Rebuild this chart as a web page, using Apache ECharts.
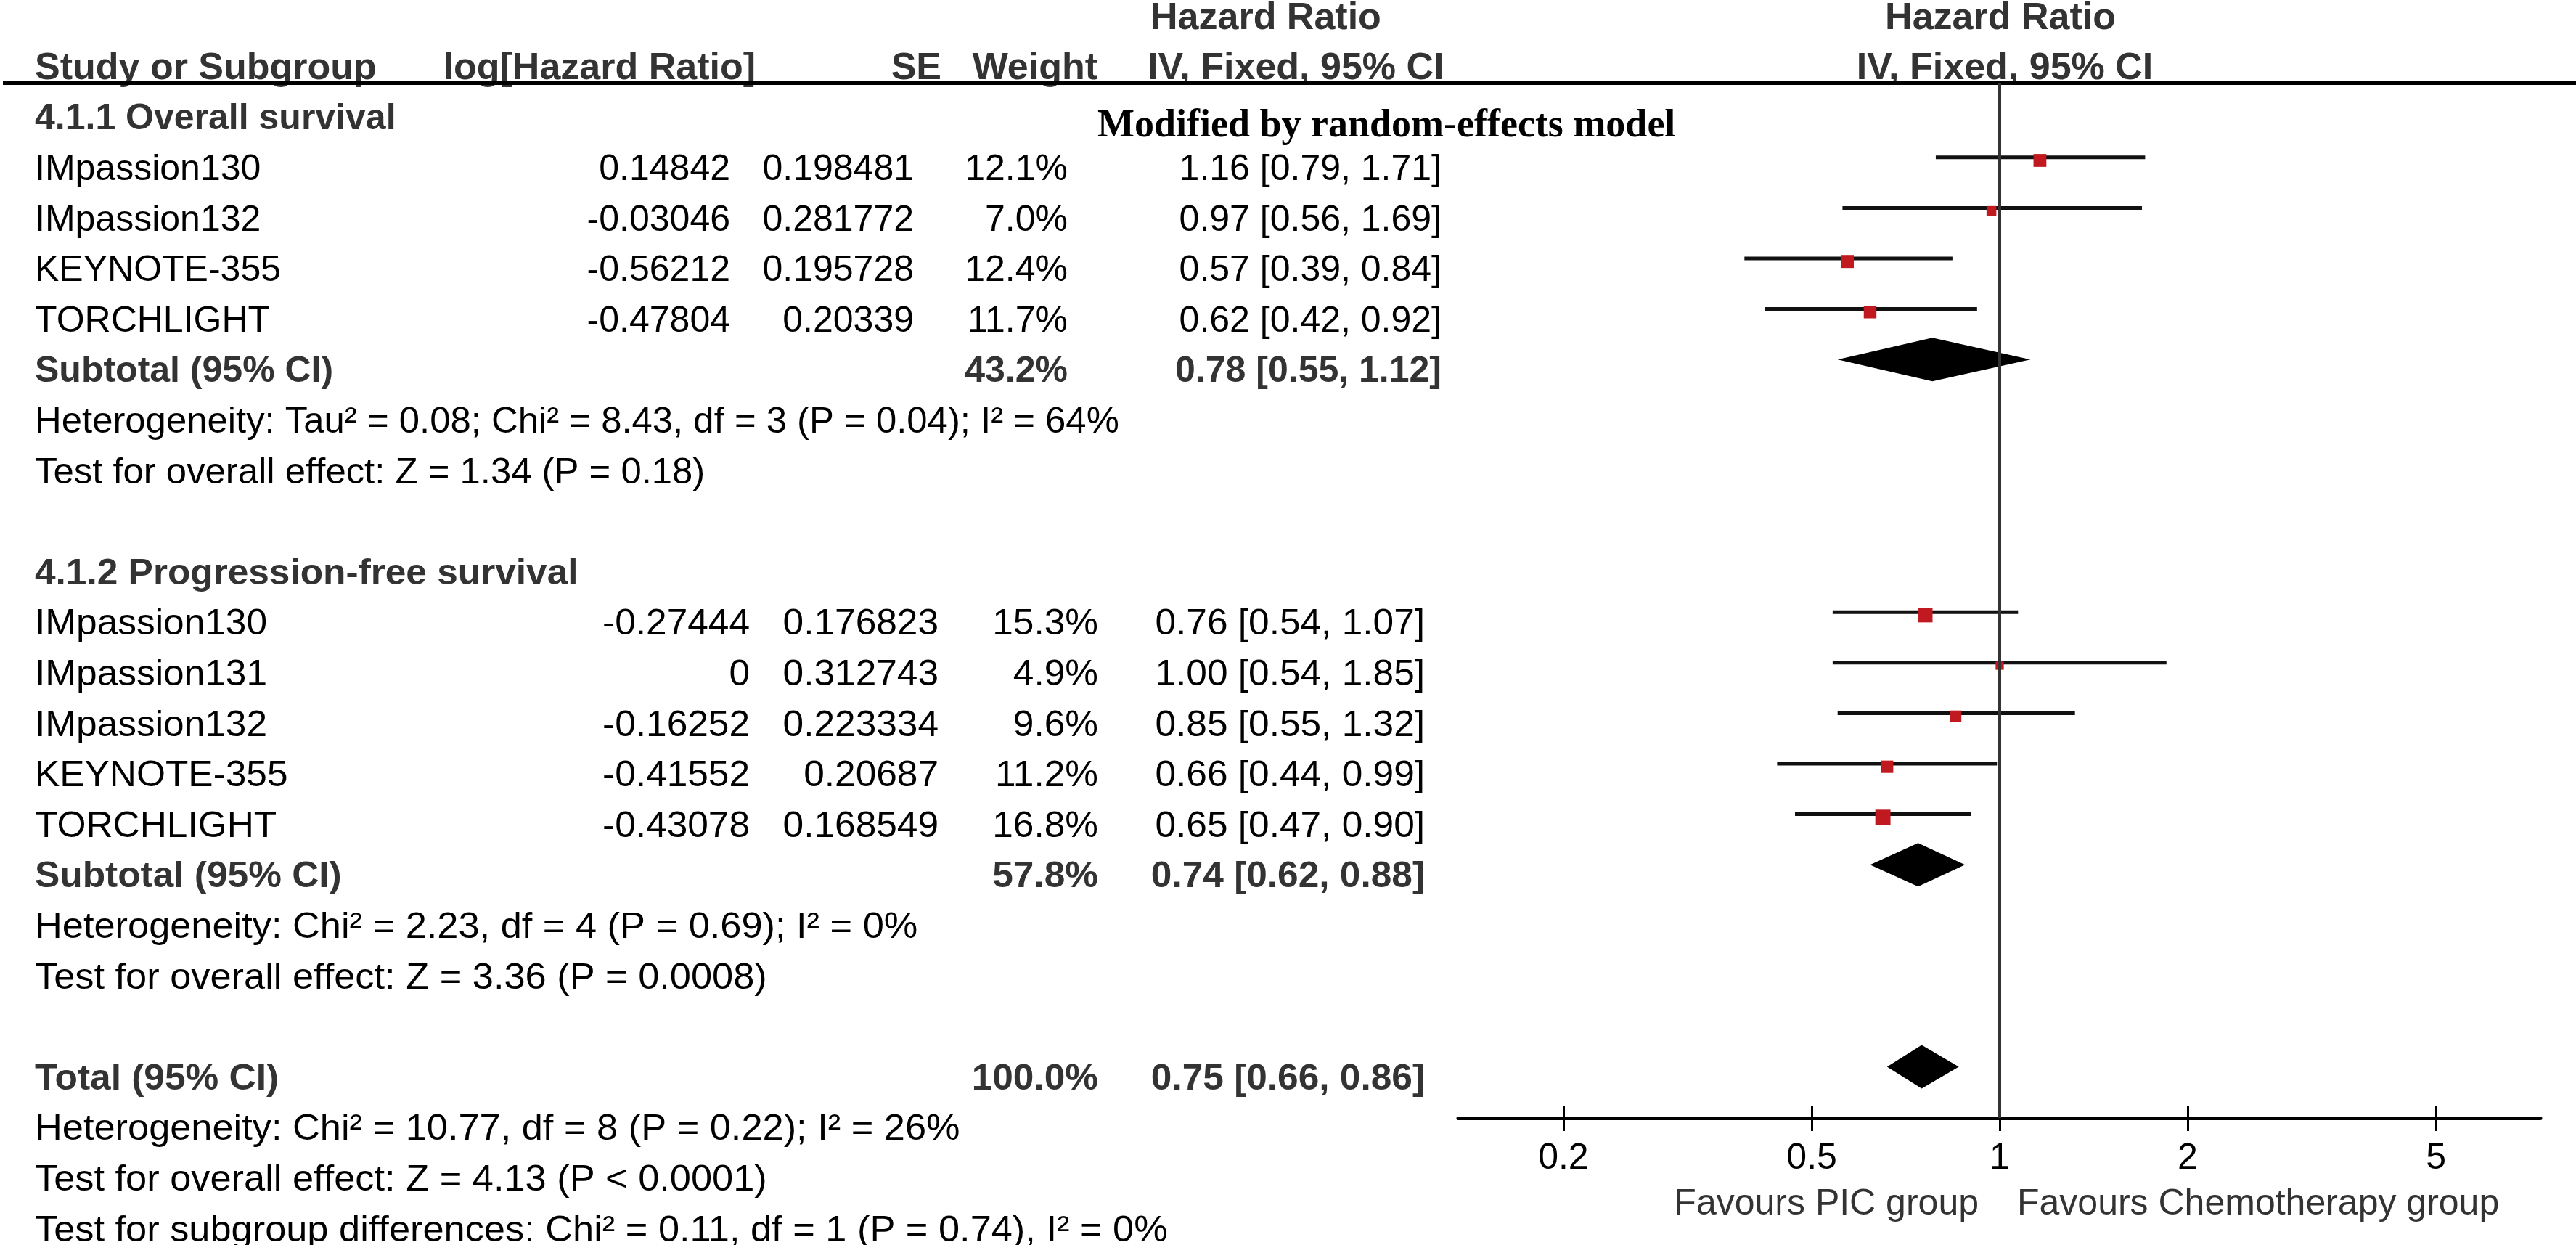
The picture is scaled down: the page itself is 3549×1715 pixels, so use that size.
<!DOCTYPE html>
<html>
<head>
<meta charset="utf-8">
<style>
  html, body { margin: 0; padding: 0; background: #fff; }
  #chart { width: 3549px; height: 1715px; }
</style>
<script src="https://cdn.jsdelivr.net/npm/echarts@6/dist/echarts.min.js"></script>
</head>
<body>
<div id="chart"></div>
<script>
// ---- data ----
const osStudies = ['IMpassion130', 'IMpassion132', 'KEYNOTE-355', 'TORCHLIGHT']
const osLogHR = [0.14842, -0.03046, -0.56212, -0.47804]
const osSE = [0.198481, 0.281772, 0.195728, 0.20339]
const osWeight = [12.1, 7.0, 12.4, 11.7]
const osHR = [1.16, 0.97, 0.57, 0.62]
const osLow = [0.79, 0.56, 0.39, 0.42]
const osHigh = [1.71, 1.69, 0.84, 0.92]

const pfsStudies = ['IMpassion130', 'IMpassion131', 'IMpassion132', 'KEYNOTE-355', 'TORCHLIGHT']
const pfsLogHR = [-0.27444, 0, -0.16252, -0.41552, -0.43078]
const pfsSE = [0.176823, 0.312743, 0.223334, 0.20687, 0.168549]
const pfsWeight = [15.3, 4.9, 9.6, 11.2, 16.8]
const pfsHR = [0.76, 1.00, 0.85, 0.66, 0.65]
const pfsLow = [0.54, 0.54, 0.55, 0.44, 0.47]
const pfsHigh = [1.07, 1.85, 1.32, 0.99, 0.90]

// OS subtotal, PFS subtotal, overall total
const pooledLabels = ['Subtotal (95% CI)', 'Subtotal (95% CI)', 'Total (95% CI)']
const pooledWeight = [43.2, 57.8, 100.0]
const pooledHR = [0.78, 0.74, 0.75]
const pooledLow = [0.55, 0.62, 0.66]
const pooledHigh = [1.12, 0.88, 0.86]

const groupTitles = ['4.1.1 Overall survival', '4.1.2 Progression-free survival']
const osNotes = [
  'Heterogeneity: Tau² = 0.08; Chi² = 8.43, df = 3 (P = 0.04); I² = 64%',
  'Test for overall effect: Z = 1.34 (P = 0.18)'
]
const pfsNotes = [
  'Heterogeneity: Chi² = 2.23, df = 4 (P = 0.69); I² = 0%',
  'Test for overall effect: Z = 3.36 (P = 0.0008)'
]
const totalNotes = [
  'Heterogeneity: Chi² = 10.77, df = 8 (P = 0.22); I² = 26%',
  'Test for overall effect: Z = 4.13 (P < 0.0001)',
  'Test for subgroup differences: Chi² = 0.11, df = 1 (P = 0.74), I² = 0%'
]
const modelNote = 'Modified by random-effects model'
const hrTicks = [0.2, 0.5, 1, 2, 5]
const favourLabels = ['Favours PIC group', 'Favours Chemotherapy group']

// ---- layout ----
const W = 3549, H = 1715
const ROW_H = 69.6      // line pitch of the table
const FIRST_Y = 95      // centre of the header line
const RULE_Y = 114.5
const AXIS_Y = 1540
const PLOT_L = 2009, PLOT_R = 3500
const SANS = '"Liberation Sans", Arial, sans-serif'
const SERIF = '"Liberation Serif", "Times New Roman", serif'
const DARK = '#333'
// the two subgroups were typeset with slightly different column edges / widths
const colsOS = { log: 1006, se: 1259, w: 1471, ci: 1986, sx: 1, noteSx: 1.017 }
const colsPFS = { log: 1033, se: 1293, w: 1513, ci: 1963, sx: 1.028, noteSx: 1.047 }

const fmtCI = (hr, lo, hi) => hr.toFixed(2) + ' [' + lo.toFixed(2) + ', ' + hi.toFixed(2) + ']'

// table rows, one per printed line
const rows = []
rows.push({ line: -1, kind: 'head1' })
rows.push({ line: 0, kind: 'head2' })
rows.push({ line: 1, kind: 'title', cols: colsOS, text: groupTitles[0], note: modelNote })
osStudies.forEach((s, i) => rows.push({
  line: 2 + i, kind: 'study', cols: colsOS, name: s, log: osLogHR[i], se: osSE[i],
  w: osWeight[i], hr: osHR[i], lo: osLow[i], hi: osHigh[i]
}))
rows.push({ line: 6, kind: 'pooled', cols: colsOS, p: 0 })
osNotes.forEach((t, i) => rows.push({ line: 7 + i, kind: 'note', cols: colsOS, text: t }))
rows.push({ line: 10, kind: 'title', cols: colsPFS, text: groupTitles[1] })
pfsStudies.forEach((s, i) => rows.push({
  line: 11 + i, kind: 'study', cols: colsPFS, name: s, log: pfsLogHR[i], se: pfsSE[i],
  w: pfsWeight[i], hr: pfsHR[i], lo: pfsLow[i], hi: pfsHigh[i]
}))
rows.push({ line: 16, kind: 'pooled', cols: colsPFS, p: 1 })
pfsNotes.forEach((t, i) => rows.push({ line: 17 + i, kind: 'note', cols: colsPFS, text: t }))
rows.push({ line: 20, kind: 'pooled', cols: colsPFS, p: 2 })
totalNotes.forEach((t, i) => rows.push({ line: 21 + i, kind: 'note', cols: colsPFS, text: t }))

const studyMarks = rows.filter(r => r.kind === 'study').map(r => [r.hr, r.lo, r.hi, r.line, r.w])
const pooledMarks = rows.filter(r => r.kind === 'pooled')
  .map(r => [pooledHR[r.p], pooledLow[r.p], pooledHigh[r.p], r.line])

const toLine = (px) => (px - FIRST_Y) / ROW_H

function txt (x, y, text, opt, sx) {
  return {
    type: 'text', x: x, y: y, scaleX: sx || 1,
    style: Object.assign({
      text: text, font: '50px ' + SANS, fill: '#000', align: 'left', verticalAlign: 'middle'
    }, opt || {})
  }
}

function renderRow (params, api) {
  const r = rows[api.value(2)]
  const X = (v) => api.coord([v, r.line])[0]
  const y = api.coord([0, r.line])[1]
  const bold = 'bold 50px ' + SANS
  const head = 'bold 52px ' + SANS
  const sx = r.cols ? r.cols.sx : 1
  const kids = []
  if (r.kind === 'head1') {
    kids.push(txt(X(1585), y, 'Hazard Ratio', { font: head, fill: DARK }))
    kids.push(txt(X(2756), y, 'Hazard Ratio', { font: head, fill: DARK, align: 'center' }))
  } else if (r.kind === 'head2') {
    kids.push(txt(X(48), y, 'Study or Subgroup', { font: head, fill: DARK }))
    kids.push(txt(X(1041), y, 'log[Hazard Ratio]', { font: head, fill: DARK, align: 'right' }))
    kids.push(txt(X(1297), y, 'SE', { font: head, fill: DARK, align: 'right' }))
    kids.push(txt(X(1512), y, 'Weight', { font: head, fill: DARK, align: 'right' }))
    kids.push(txt(X(1581), y, 'IV, Fixed, 95% CI', { font: head, fill: DARK }))
    kids.push(txt(X(2762), y, 'IV, Fixed, 95% CI', { font: head, fill: DARK, align: 'center' }))
    const ry = api.coord([0, toLine(RULE_Y)])[1]
    kids.push({ type: 'line', shape: { x1: X(4), y1: ry, x2: X(W), y2: ry }, style: { stroke: '#000', lineWidth: 5 } })
  } else if (r.kind === 'title') {
    kids.push(txt(X(48), y, r.text, { font: bold, fill: DARK }, sx))
    if (r.note) kids.push(txt(X(1512), y + 9, r.note, { font: 'bold 54px ' + SERIF }))
  } else if (r.kind === 'study') {
    kids.push(txt(X(48), y, r.name, null, sx))
    kids.push(txt(X(r.cols.log), y, String(r.log), { align: 'right' }, sx))
    kids.push(txt(X(r.cols.se), y, String(r.se), { align: 'right' }, sx))
    kids.push(txt(X(r.cols.w), y, r.w.toFixed(1) + '%', { align: 'right' }, sx))
    kids.push(txt(X(r.cols.ci), y, fmtCI(r.hr, r.lo, r.hi), { align: 'right' }, sx))
  } else if (r.kind === 'pooled') {
    kids.push(txt(X(48), y, pooledLabels[r.p], { font: bold, fill: DARK }, sx))
    kids.push(txt(X(r.cols.w), y, pooledWeight[r.p].toFixed(1) + '%', { font: bold, fill: DARK, align: 'right' }, sx))
    kids.push(txt(X(r.cols.ci), y, fmtCI(pooledHR[r.p], pooledLow[r.p], pooledHigh[r.p]),
      { font: bold, fill: DARK, align: 'right' }, sx))
  } else if (r.kind === 'note') {
    kids.push(txt(X(48), y, r.text, null, r.cols.noteSx))
  }
  return { type: 'group', children: kids }
}

// CI whisker + weighted square
function renderStudy (params, api) {
  const line = api.value(3)
  const a = api.coord([api.value(1), line - 0.25])
  const b = api.coord([api.value(2), line - 0.25])
  const c = api.coord([api.value(0), line - 0.19])
  const side = 5.1 * Math.sqrt(api.value(4))
  return {
    type: 'group',
    children: [
      { type: 'line', shape: { x1: a[0], y1: a[1], x2: b[0], y2: b[1] }, style: { stroke: '#111', lineWidth: 5 } },
      { type: 'rect', shape: { x: c[0] - side / 2, y: c[1] - side / 2, width: side, height: side }, style: { fill: '#c0191f' } }
    ]
  }
}

function renderDiamond (params, api) {
  const line = api.value(3) - 0.25
  const c = api.coord([api.value(0), line])
  const l = api.coord([api.value(1), line])
  const r = api.coord([api.value(2), line])
  const h = 30
  return {
    type: 'polygon',
    shape: { points: [[l[0], c[1]], [c[0], c[1] - h], [r[0], c[1]], [c[0], c[1] + h]] },
    style: { fill: '#000' }
  }
}

function renderFavours (params, api) {
  const p = api.coord([api.value(0), api.value(1)])
  const f = '50px ' + SANS
  return {
    type: 'group',
    children: [
      txt(p[0] - 29, p[1], favourLabels[0], { font: f, fill: DARK, align: 'right' }),
      txt(p[0] + 24, p[1], favourLabels[1], { font: f, fill: DARK })
    ]
  }
}

const PX_PER_DECADE = 860
const x1 = 2755
const hrMin = Math.pow(10, (PLOT_L - x1) / PX_PER_DECADE)
const hrMax = Math.pow(10, (PLOT_R - x1) / PX_PER_DECADE)
const plotTopLine = toLine(RULE_Y)
const plotBottomLine = toLine(AXIS_Y)

const chart = echarts.init(document.getElementById('chart'))
chart.setOption({
  backgroundColor: '#fff',
  animation: false,
  grid: [
    { left: 0, right: 0, top: FIRST_Y - ROW_H, bottom: H - (FIRST_Y + 23 * ROW_H) },
    { left: PLOT_L, right: W - PLOT_R, top: RULE_Y, bottom: H - AXIS_Y }
  ],
  xAxis: [
    { gridIndex: 0, type: 'value', min: 0, max: W, show: false },
    {
      gridIndex: 1, type: 'log', logBase: 10, min: hrMin, max: hrMax, position: 'bottom',
      axisLine: { show: true, lineStyle: { color: '#000', width: 5 } },
      axisTick: { show: true, length: 18, lineStyle: { color: '#000', width: 3 }, customValues: hrTicks },
      axisLabel: {
        show: true, customValues: hrTicks, margin: 31, color: '#000', fontSize: 50, fontFamily: SANS,
        formatter: (v) => String(Math.round(v * 10) / 10)
      },
      splitLine: { show: false }, minorTick: { show: false }
    },
    {
      gridIndex: 1, type: 'log', logBase: 10, min: hrMin, max: hrMax, position: 'bottom',
      axisLine: { show: false },
      axisTick: { show: true, inside: true, length: 17, lineStyle: { color: '#000', width: 3 }, customValues: hrTicks },
      axisLabel: { show: false },
      splitLine: { show: false }
    }
  ],
  yAxis: [
    { gridIndex: 0, type: 'value', min: -1, max: 23, inverse: true, show: false },
    { gridIndex: 1, type: 'value', min: plotTopLine, max: plotBottomLine, inverse: true, show: false }
  ],
  series: [
    {
      type: 'custom', name: 'table', xAxisIndex: 0, yAxisIndex: 0,
      data: rows.map((r, i) => [0, r.line, i]), renderItem: renderRow, silent: true
    },
    {
      type: 'line', name: 'no effect', xAxisIndex: 1, yAxisIndex: 1, symbol: 'none',
      data: [[1, plotTopLine], [1, plotBottomLine]],
      lineStyle: { color: '#333', width: 4 }, silent: true
    },
    {
      type: 'custom', name: 'studies', xAxisIndex: 1, yAxisIndex: 1,
      data: studyMarks, renderItem: renderStudy, encode: { x: [0, 1, 2], y: 3 }
    },
    {
      type: 'custom', name: 'pooled', xAxisIndex: 1, yAxisIndex: 1,
      data: pooledMarks, renderItem: renderDiamond, encode: { x: [0, 1, 2], y: 3 }
    },
    {
      type: 'custom', name: 'favours', xAxisIndex: 1, yAxisIndex: 1,
      data: [[1, toLine(1659)]], renderItem: renderFavours
    }
  ]
})

window.addEventListener('resize', () => {
  chart.resize()
})
</script>
</body>
</html>
